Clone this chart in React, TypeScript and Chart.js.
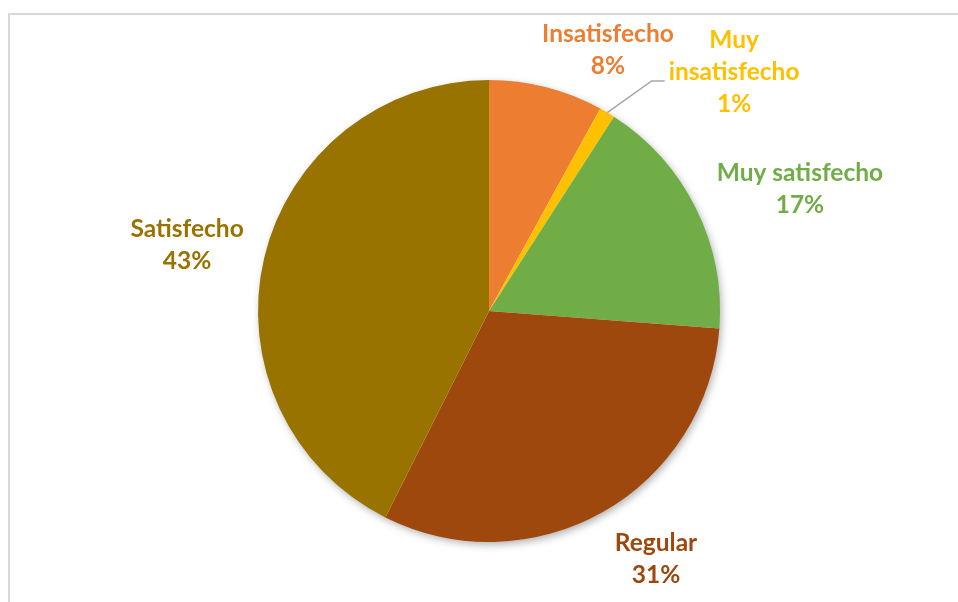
import React, { useEffect, useRef } from "react";
import { Chart, registerables } from "chart.js";

Chart.register(...registerables);

const categories = ["Insatisfecho", "Muy insatisfecho", "Muy satisfecho", "Regular", "Satisfecho"];
const values = [8.0, 1.1, 17.1, 31.2, 42.6];
const sliceColors = ["#ED7D31", "#FFC000", "#70AD47", "#9E480E", "#997300"];
const labelLines = [["Insatisfecho"], ["Muy", "insatisfecho"], ["Muy satisfecho"], ["Regular"], ["Satisfecho"]];
// label block centre relative to pie centre, in units of the radius
const labelOffsets = [
  [0.515, -1.128],
  [1.061, -1.035],
  [1.346, -0.526],
  [0.723, 1.076],
  [-1.307, -0.286],
];
const leaderFor = [false, true, false, false, false];

const FONT = "bold 24.5px Lato";
const LINE_H = 32;

const framePlugin = {
  id: "frame",
  beforeDraw(chart: any) {
    const ctx = chart.ctx;
    ctx.save();
    ctx.fillStyle = "#ffffff";
    ctx.fillRect(0, 0, chart.width, chart.height);
    ctx.fillStyle = "#d9d9d9";
    ctx.fillRect(8, 13, chart.width - 8, 2);
    ctx.fillRect(8, 13, 2, chart.height - 13);
    ctx.restore();
  },
};

const shadowPlugin = {
  id: "pieShadow",
  beforeDatasetsDraw(chart: any) {
    const arc = chart.getDatasetMeta(0).data[0];
    if (!arc) return;
    const ctx = chart.ctx;
    ctx.save();
    ctx.shadowColor = "rgba(0,0,0,0.35)";
    ctx.shadowBlur = 9;
    ctx.shadowOffsetX = 2;
    ctx.shadowOffsetY = 3;
    ctx.fillStyle = "#ffffff";
    ctx.beginPath();
    ctx.arc(arc.x, arc.y, arc.outerRadius - 1, 0, Math.PI * 2);
    ctx.fill();
    ctx.restore();
  },
};

const labelPlugin = {
  id: "pieLabels",
  afterDatasetsDraw(chart: any) {
    const meta = chart.getDatasetMeta(0);
    const ctx = chart.ctx;
    const total = values.reduce((a, b) => a + b, 0);
    ctx.save();
    ctx.font = FONT;
    ctx.textAlign = "center";
    ctx.textBaseline = "middle";
    meta.data.forEach((arc: any, i: number) => {
      const r = arc.outerRadius;
      const cx = arc.x + labelOffsets[i][0] * r;
      const cy = arc.y + labelOffsets[i][1] * r;
      const lines = [...labelLines[i], Math.round((values[i] / total) * 100) + "%"];
      const top = cy - ((lines.length - 1) * LINE_H) / 2;
      if (leaderFor[i]) {
        const mid = (arc.startAngle + arc.endAngle) / 2;
        const sx = arc.x + Math.cos(mid) * r;
        const sy = arc.y + Math.sin(mid) * r;
        let maxW = 0;
        lines.forEach((l) => (maxW = Math.max(maxW, ctx.measureText(l).width)));
        const ex = cx - maxW / 2 - 4;
        const ey = cy + 9;
        ctx.strokeStyle = "#A6A6A6";
        ctx.lineWidth = 1.5;
        ctx.beginPath();
        ctx.moveTo(sx, sy);
        ctx.lineTo(ex - 13, ey);
        ctx.lineTo(ex, ey);
        ctx.stroke();
      }
      ctx.fillStyle = sliceColors[i];
      lines.forEach((l, k) => ctx.fillText(l, cx, top + k * LINE_H));
    });
    ctx.restore();
  },
};

export default function App() {
  const ref = useRef<HTMLCanvasElement>(null);
  useEffect(() => {
    if (!ref.current) return;
    const chart = new Chart(ref.current, {
      type: "pie",
      data: {
        labels: categories,
        datasets: [
          {
            data: values,
            backgroundColor: sliceColors,
            borderWidth: 0,
          },
        ],
      },
      options: {
        responsive: false,
        animation: false,
        layout: { padding: { top: 80, bottom: 60, left: 258, right: 238 } },
        plugins: {
          legend: { display: false },
          tooltip: { enabled: false },
        },
      },
      plugins: [framePlugin, shadowPlugin, labelPlugin],
    });
    return () => chart.destroy();
  }, []);
  return (
    <div style={{ position: "absolute", left: 0, top: 0, width: 958, height: 602, background: "#fff" }}>
      <canvas ref={ref} width={958} height={602} style={{ display: "block", width: 958, height: 602 }} />
    </div>
  );
}
